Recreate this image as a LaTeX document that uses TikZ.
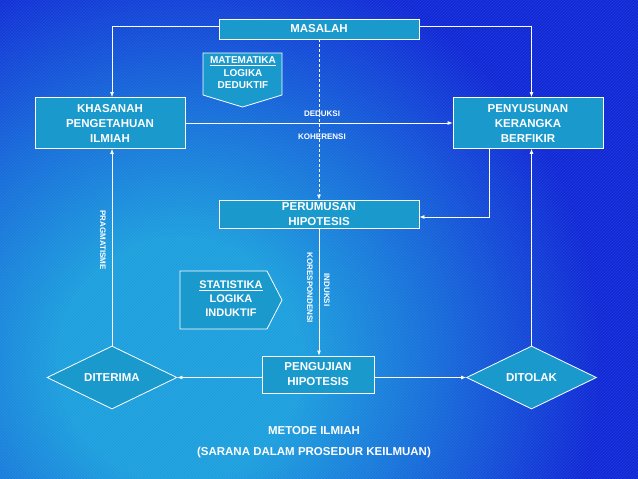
\documentclass[tikz,border=0pt]{standalone}
\usepackage{fontspec}
\setmainfont{Liberation Sans}
\usetikzlibrary{arrows.meta, shapes.geometric, patterns}

\definecolor{bgblue}{RGB}{18,42,214}
\definecolor{bgmid}{RGB}{24,108,218}
\definecolor{bgcyan}{RGB}{30,160,222}
\definecolor{boxfill}{RGB}{26,153,204}

\pgfdeclareradialshading{bgshade}{\pgfpoint{0bp}{0bp}}{%
  color(0bp)=(bgcyan); color(6bp)=(bgcyan); color(13bp)=(bgmid);
  color(21bp)=(bgblue); color(50bp)=(bgblue)}

\tikzset{
  stepbox/.style={draw=white, fill=boxfill, line width=0.8pt, text=white, align=center,
    inner sep=0pt, font=\bfseries\fontsize{11.5}{15}\selectfont},
  choice/.style={diamond, draw=white, fill=boxfill, line width=0.8pt, text=white, inner sep=0pt,
    aspect=2.06, minimum width=130pt, minimum height=63pt, font=\bfseries\fontsize{11.5}{14}\selectfont},
  tagbox/.style={draw=white, fill=boxfill, line width=0.8pt},
  conn/.style={draw=white, line width=0.8pt, -{Latex[length=5pt,width=4pt]}},
  lbl/.style={text=white, font=\bfseries\fontsize{8}{9}\selectfont},
  title/.style={text=white, font=\bfseries\fontsize{11.5}{13}\selectfont}
}

\begin{document}
\begin{tikzpicture}[x=1pt, y=-1pt]
  % background
  \useasboundingbox (0,0) rectangle (638,479);
  \begin{scope}
    \clip (0,0) rectangle (638,479);
    \fill[bgblue] (0,0) rectangle (638,479);
    \shade[shading=bgshade] (180,360) circle (500);
    \fill[pattern=north east lines, pattern color=white, opacity=0.07] (0,0) rectangle (638,479);
  \end{scope}
  % steps
  \node[stepbox, minimum width=200, minimum height=20] (masalah) at (319,29) {MASALAH};
  \node[stepbox, minimum width=150, minimum height=51] (khasanah) at (110,123) {KHASANAH\\PENGETAHUAN\\ILMIAH};
  \node[stepbox, minimum width=150, minimum height=51] (penyusunan) at (528,123) {PENYUSUNAN\\KERANGKA\\BERFIKIR};
  \node[stepbox, minimum width=200, minimum height=28] (perumusan) at (319,214) {PERUMUSAN\\HIPOTESIS};
  \node[stepbox, minimum width=112, minimum height=37] (pengujian) at (318,374.5) {PENGUJIAN\\HIPOTESIS};
  \node[choice] (diterima) at (112,377.5) {DITERIMA};
  \node[choice] (ditolak) at (531.5,377.5) {DITOLAK};
  % tags
  \draw[tagbox] (203,53) -- (282,53) -- (282,95) -- (242.5,107) -- (203,95) -- cycle;
  \node[title, align=center, font=\bfseries\fontsize{10}{12.5}\selectfont] (matematika) at (243,73)
    {\underline{MATEMATIKA}\\LOGIKA\\DEDUKTIF};
  \draw[tagbox] (180,271) -- (267,271) -- (282,300) -- (267,329) -- (180,329) -- cycle;
  \node[title, align=center, font=\bfseries\fontsize{11}{14}\selectfont] (statistika) at (231,299)
    {\underline{STATISTIKA}\\LOGIKA\\INDUKTIF};
  % connectors
  \coordinate (turn) at (489,217);
  \draw[conn] ([yshift=3pt]masalah.west) -| (diterima.north |- khasanah.north);
  \draw[conn] ([yshift=3pt]masalah.east) -| (ditolak.north |- penyusunan.north);
  \draw[conn] (khasanah.east) -- (penyusunan.west);
  \draw[conn, dash pattern=on 3pt off 2pt] (masalah.south) -- (perumusan.north);
  \draw[conn] (penyusunan.south -| turn) |- (perumusan.east |- turn);
  \draw[conn] (perumusan.south) -- (perumusan.south |- pengujian.north);
  \draw[conn] (pengujian.west |- diterima) -- (diterima.east);
  \draw[conn] (pengujian.east |- ditolak) -- (ditolak.west);
  \draw[conn] (diterima.north) -- (diterima.north |- khasanah.south);
  \draw[conn] (ditolak.north) -- (ditolak.north |- penyusunan.south);
  % labels
  \node[lbl] (deduksi) at (322,114) {DEDUKSI};
  \node[lbl] (koherensi) at (322,137) {KOHERENSI};
  \node[lbl, rotate=-90] (pragmatisme) at (103,240) {PRAGMATISME};
  \node[lbl, rotate=-90] (korespondensi) at (310,288) {KORESPONDENSI};
  \node[lbl, rotate=-90] (induksi) at (327,290) {INDUKSI};
  \node[title] (metode) at (314,431) {METODE ILMIAH};
  \node[title] (sarana) at (314,453) {(SARANA DALAM PROSEDUR KEILMUAN)};
\end{tikzpicture}
\end{document}
